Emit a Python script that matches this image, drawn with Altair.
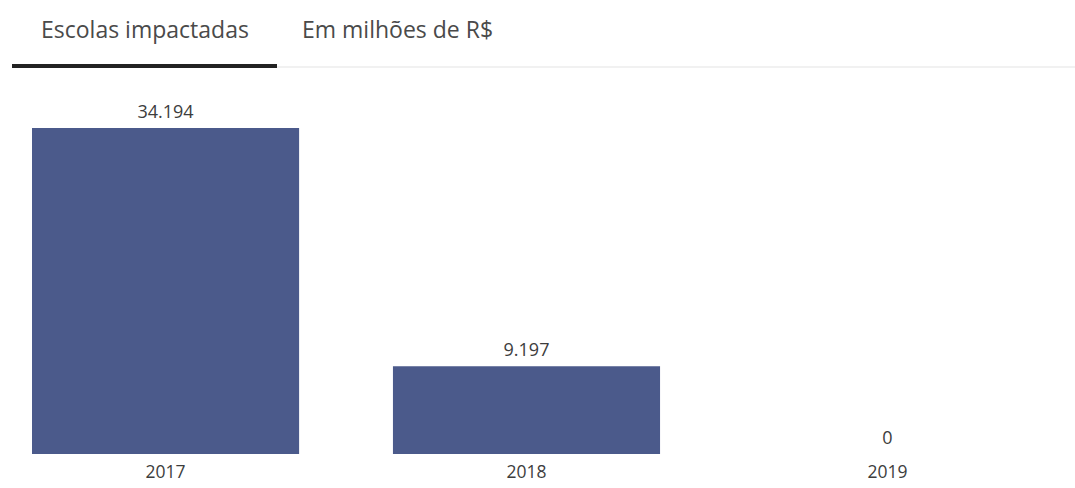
import altair as alt
import pandas as pd

years = ["2017", "2018", "2019"]
escolas = [34194, 9197, 0]
tabs = ["Escolas impactadas", "Em milhões de R$"]

FONT = "Open Sans"
BAR = "#4b5a8b"
TXT = "#3d3d3d"

df = pd.DataFrame({"ano": years, "valor": escolas})

base = alt.Chart(df).encode(
    x=alt.X("ano:N", sort=years,
            scale=alt.Scale(paddingInner=0.26, paddingOuter=0),
            axis=alt.Axis(title=None, labelAngle=0, domain=False, ticks=False,
                          labelFont=FONT, labelFontSize=17.5, labelColor=TXT,
                          labelPadding=9)),
)

bars = base.mark_bar(color=BAR).encode(
    y=alt.Y("valor:Q", scale=alt.Scale(domain=[0, 34194], nice=False),
            axis=None)
)

labels = base.transform_calculate(
    lbl="replace(format(datum.valor, ','), ',', '.')"
).mark_text(baseline="bottom", dy=-6, font=FONT, fontSize=18, color=TXT).encode(
    y=alt.Y("valor:Q"),
    text="lbl:N",
)

tab1 = alt.Chart(pd.DataFrame({"tab": [tabs[0]]})).mark_text(
    align="left", baseline="middle", font=FONT, fontSize=23, color="#4a4a4a"
).encode(x=alt.value(9), y=alt.value(-97), text="tab:N")
tab2 = alt.Chart(pd.DataFrame({"tab": [tabs[1]]})).mark_text(
    align="left", baseline="middle", font=FONT, fontSize=23, color="#4a4a4a"
).encode(x=alt.value(270), y=alt.value(-97), text="tab:N")

gray_line = alt.Chart(pd.DataFrame({"a": [0]})).mark_rule(
    color="#e3e3e3", strokeWidth=1
).encode(x=alt.value(245), x2=alt.value(1043), y=alt.value(-61))
black_line = alt.Chart(pd.DataFrame({"a": [0]})).mark_rule(
    color="#222222", strokeWidth=4
).encode(x=alt.value(-20), x2=alt.value(245), y=alt.value(-62))

chart = alt.layer(bars, labels, gray_line, black_line, tab1, tab2).properties(
    width=989, height=326,
    padding={"left": 32, "top": 128, "right": 54, "bottom": 34},
    autosize=alt.AutoSizeParams(type="none"),
    background="white",
).configure_view(stroke=None)

chart.save("out.html", embed_options={"renderer": "svg", "actions": False})
